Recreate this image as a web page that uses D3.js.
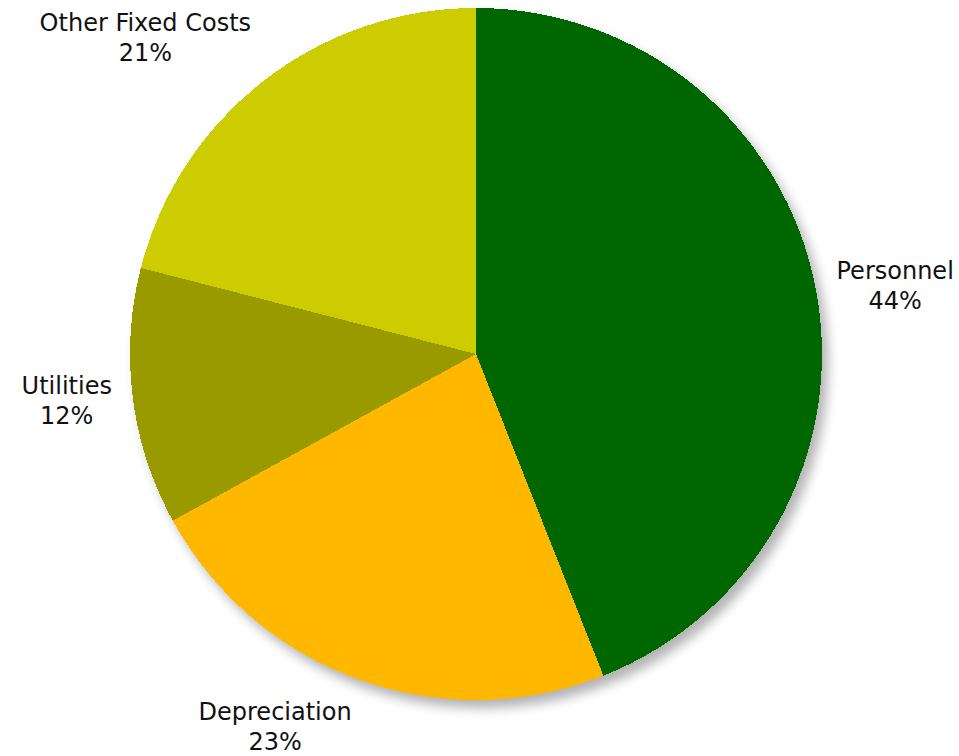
<!DOCTYPE html>
<html>
<head>
<meta charset="utf-8">
<script src="https://cdn.jsdelivr.net/npm/d3@7"></script>
<style>
  html, body { margin: 0; padding: 0; background: #fff; }
  svg text { font-family: "DejaVu Sans", sans-serif; fill: #111; }
</style>
</head>
<body>
<div id="container"></div>
<script>
var width = 959;
var height = 756;

var categories = ["Personnel", "Depreciation", "Utilities", "Other Fixed Costs"];
var shares = [44, 23, 12, 21];
var colors = ["#006600", "#ffb700", "#999900", "#cccc00"];

var cx = 476, cy = 354, radius = 346;
var labelRadius = radius + 21;
var fontSize = 24, lineHeight = 30;

const SVG = d3.select("#container")
              .append("svg")
              .attr("width", width)
              .attr("height", height);

// soft drop shadow like the original
var defs = SVG.append("defs");
defs.append("filter")
    .attr("id", "shadow")
    .attr("x", "-20%").attr("y", "-20%")
    .attr("width", "140%").attr("height", "140%")
    .append("feGaussianBlur")
    .attr("stdDeviation", 6);

const g = SVG.append("g").attr("transform", `translate(${cx},${cy})`);

g.append("circle")
 .attr("cx", 6)
 .attr("cy", 8)
 .attr("r", radius)
 .attr("fill", "#000")
 .attr("opacity", 0.3)
 .attr("filter", "url(#shadow)");

var data = categories.map((c, i) => ({name: c, value: shares[i], color: colors[i]}));

const pie = d3.pie().value(d => d.value).sort(null);
const arc = d3.arc().innerRadius(0).outerRadius(radius);
const arcs = pie(data);

g.selectAll("path.slice")
 .data(arcs)
 .enter()
 .append("path")
 .attr("class", "slice")
 .attr("d", arc)
 .attr("fill", d => d.data.color)
 .attr("shape-rendering", "crispEdges");

// labels placed just outside the pie, box corner touching the label radius
const LABEL = g.selectAll("g.label")
               .data(arcs)
               .enter()
               .append("g")
               .attr("class", "label");

LABEL.each(function(d) {
  var sel = d3.select(this);
  var lines = [d.data.name, d.data.value + "%"];
  var texts = lines.map((t, i) => sel.append("text")
                                     .attr("font-size", fontSize)
                                     .attr("text-anchor", "middle")
                                     .attr("y", i * lineHeight)
                                     .text(t));
  var w = d3.max(texts, t => t.node().getComputedTextLength());
  var mid = (d.startAngle + d.endAngle) / 2;
  var s = Math.sin(mid), c = Math.cos(mid);
  var px = labelRadius * s, py = -labelRadius * c;
  var boxH = lineHeight * (lines.length - 1) + fontSize;
  var bx = s < 0 ? px - w / 2 : px + w / 2;
  var top;
  if (c > 0.5) top = py - boxH;
  else if (c < -0.5) top = py;
  else top = py - boxH / 2;
  // first baseline sits roughly cap height below the box top
  sel.attr("transform", `translate(${bx},${top + fontSize * 0.88})`);
});
</script>
</body>
</html>
